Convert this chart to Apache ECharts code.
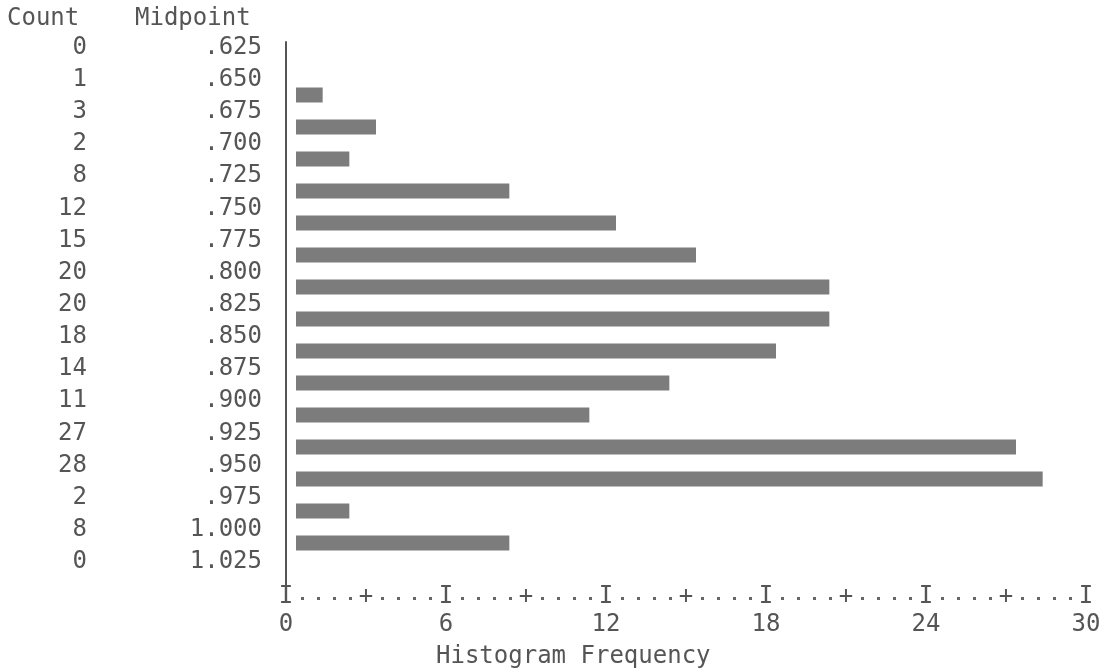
<!DOCTYPE html>
<html>
<head>
<meta charset="utf-8">
<script src="https://cdn.jsdelivr.net/npm/echarts@6/dist/echarts.min.js"></script>
<style>
    html, body { margin: 0; padding: 0; background: #fff; }
    #chart { width: 1108px; height: 672px; }
</style>
</head>
<body>
<div id="chart"></div>
<script>
    var midpoints = ['.625', '.650', '.675', '.700', '.725', '.750', '.775', '.800', '.825',
                     '.850', '.875', '.900', '.925', '.950', '.975', '1.000', '1.025'];
    var counts = [0, 1, 3, 2, 8, 12, 15, 20, 20, 18, 14, 11, 27, 28, 2, 8, 0];
    var freqMin = 0;
    var freqMax = 30;
    var freqStep = 6;

    var font = 'DejaVu Sans Mono';
    var ink = '#555';
    var fontSize = 24;

    var myChart = echarts.init(document.getElementById('chart'));
    var option = {
        animation: false,
        textStyle: { fontFamily: font, color: ink },
        title: [
            { text: 'Count', left: 7, top: 7, padding: 0,
              textStyle: { fontFamily: font, fontSize: fontSize, fontWeight: 'normal', color: ink } },
            { text: 'Midpoint', left: 135, top: 7, padding: 0,
              textStyle: { fontFamily: font, fontSize: fontSize, fontWeight: 'normal', color: ink } },
            { text: 'Histogram Frequency', left: 436, top: 645, padding: 0,
              textStyle: { fontFamily: font, fontSize: fontSize, fontWeight: 'normal', color: ink } }
        ],
        grid: [
            // labels
            { left: 286, width: 800, top: 31.5, height: 546.5 },
            // bars
            { left: 296, width: 800, top: 47, height: 544 },
            // frequency scale + left rule
            { left: 286, width: 800, top: 42, height: 555 }
        ],
        xAxis: [
            { gridIndex: 0, type: 'value', min: freqMin, max: freqMax, show: false },
            { gridIndex: 1, type: 'value', min: freqMin, max: freqMax, show: false },
            {
                gridIndex: 2, type: 'value', position: 'bottom', min: freqMin, max: freqMax, interval: freqStep,
                axisLine: { show: false }, axisTick: { show: false }, splitLine: { show: false },
                axisLabel: { margin: 16, fontFamily: font, fontSize: fontSize, color: ink }
            },
            {
                // printer style scale: I....+....I
                gridIndex: 2, type: 'value', position: 'bottom', offset: 0,
                min: freqMin, max: freqMax, interval: freqStep / 2,
                axisLine: { show: false }, axisTick: { show: false }, splitLine: { show: false },
                minorTick: { show: true, splitNumber: 5, length: 3, lineStyle: { color: '#666', width: 3 } },
                axisLabel: {
                    margin: -12, fontFamily: font, fontSize: fontSize, color: ink,
                    formatter: function (v) { return v % freqStep === 0 ? 'I' : '+'; }
                }
            }
        ],
        yAxis: [
            {
                gridIndex: 0, type: 'category', data: midpoints, inverse: true,
                axisLine: { show: false }, axisTick: { show: false },
                axisLabel: { margin: 24, fontFamily: font, fontSize: fontSize, color: ink }
            },
            {
                gridIndex: 0, type: 'category', data: counts.map(String), inverse: true, position: 'left',
                axisLine: { show: false }, axisTick: { show: false },
                axisLabel: { margin: 199, fontFamily: font, fontSize: fontSize, color: ink }
            },
            { gridIndex: 1, type: 'category', data: midpoints, inverse: true, show: false },
            {
                gridIndex: 2, type: 'value', min: 0, max: 1,
                axisLine: { show: true, lineStyle: { color: '#555', width: 2 } },
                axisTick: { show: false }, axisLabel: { show: false }, splitLine: { show: false }
            }
        ],
        series: [
            {
                name: 'Count',
                type: 'bar',
                xAxisIndex: 1,
                yAxisIndex: 2,
                data: counts,
                barWidth: 15,
                itemStyle: { color: '#7c7c7c' }
            }
        ]
    };
    myChart.setOption(option);
</script>
</body>
</html>
